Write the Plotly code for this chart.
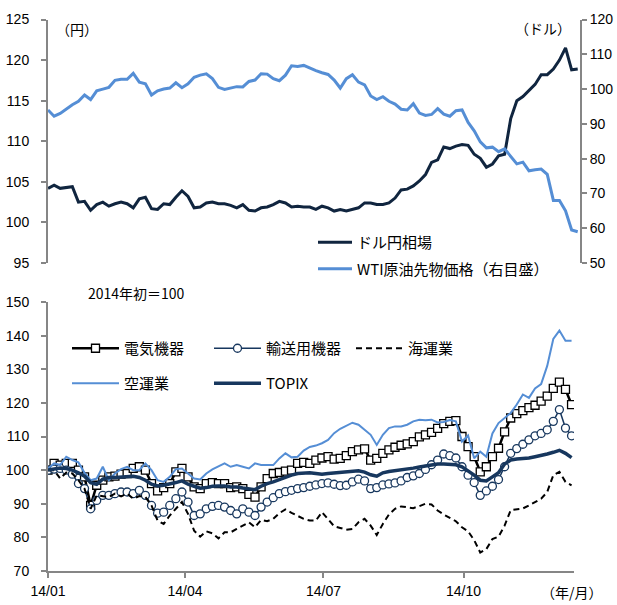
import pandas as pd
import plotly.graph_objects as go

# ---------------- data ----------------
top_dates = pd.date_range("2014-01-01", periods=88, freq="4D")
bot_dates = pd.date_range("2014-01-01", periods=87, freq="4D")

usdjpy = [104.2, 104.6, 104.2, 104.3, 104.4, 102.5, 102.6, 101.5, 102.2, 102.5,
          102.0, 102.3, 102.5, 102.3, 101.8, 102.9, 103.1, 101.7, 101.6, 102.3,
          102.2, 103.1, 103.9, 103.2, 101.8, 101.9, 102.4, 102.5, 102.3, 102.3,
          102.1, 101.8, 102.2, 101.5, 101.4, 101.8, 101.9, 102.2, 102.6, 102.4,
          101.9, 102.0, 101.9, 101.9, 101.6, 102.0, 101.8, 101.4, 101.6, 101.4,
          101.6, 101.8, 102.4, 102.4, 102.2, 102.2, 102.4, 103.0, 104.0, 104.1,
          104.5, 105.1, 105.9, 107.4, 107.7, 109.3, 109.1, 109.4, 109.6, 109.5,
          108.4, 107.9, 106.8, 107.2, 108.2, 108.4, 112.8, 115.0, 115.5, 116.3,
          117.0, 118.2, 118.2, 118.9, 120.0, 121.5, 118.8, 118.9]

wti = [94.0, 92.2, 93.0, 94.3, 95.5, 96.5, 98.3, 97.0, 99.5, 100.0,
       100.5, 102.5, 102.8, 102.8, 104.5, 102.0, 101.5, 98.3, 99.5, 100.0,
       100.3, 101.8, 100.4, 101.5, 103.4, 104.0, 104.4, 103.0, 100.5, 99.9,
       100.2, 100.7, 100.6, 102.2, 102.6, 104.4, 104.3, 103.0, 102.4, 104.0,
       106.7, 106.5, 106.8, 106.0, 105.3, 104.7, 104.2, 102.6, 100.3, 103.0,
       104.1, 102.0, 101.2, 98.0, 97.0, 97.8, 96.5, 95.7, 94.2, 94.0,
       95.8, 93.1, 92.4, 92.7, 94.4, 92.8, 92.2, 93.8, 94.0, 90.4,
       88.0, 84.8, 83.1, 83.3, 82.0, 82.8, 80.5, 78.5, 79.0, 76.5,
       76.8, 77.0, 75.5, 68.0, 68.0, 65.0, 59.5, 59.0]

denki = [100.0, 102.0, 101.5, 102.0, 102.0, 100.0, 98.0, 89.5, 95.5, 97.0,
         98.0, 98.2, 98.8, 99.0, 100.5, 101.0, 100.0, 96.0, 93.8, 94.8,
         96.0, 99.5, 100.5, 98.0, 95.0, 94.5, 96.0, 96.3, 96.0, 96.0,
         94.8, 95.0, 94.5, 92.8, 92.0, 95.0, 97.5, 99.0, 99.3, 99.7,
         100.0, 102.0, 102.3, 102.0, 103.0, 103.6, 104.0, 103.3, 103.5, 104.3,
         105.5, 106.0, 106.3, 103.0, 103.5, 105.0, 106.0, 106.8, 107.4, 107.8,
         108.5, 109.9, 110.5, 111.2, 112.4, 113.8, 114.5, 114.7, 110.0, 107.0,
         104.0, 99.5, 101.0, 104.0, 106.5, 111.4, 115.5, 116.8, 117.7, 118.6,
         119.3, 120.5, 122.0, 124.3, 126.2, 124.0, 119.5]

yuso = [100.0, 100.3, 100.5, 100.0, 98.8, 96.0, 94.5, 88.5, 91.0, 92.5,
        92.5, 93.0, 93.5, 93.5, 93.0, 94.0, 92.5, 89.5, 87.2, 87.5,
        89.5, 91.5, 93.5, 90.5, 86.5, 87.0, 88.5, 89.2, 89.5, 89.0,
        88.0, 87.0, 88.5, 87.5, 86.5, 89.0, 90.5, 91.8, 93.0, 93.6,
        94.0, 94.5, 94.8, 95.2, 95.6, 96.0, 96.2, 95.8, 95.4, 95.5,
        96.5, 97.3, 96.8, 94.5, 94.8, 95.6, 95.9, 96.2, 96.8, 97.8,
        98.3, 99.0, 100.2, 101.6, 103.0, 104.8, 104.3, 103.6, 101.0, 98.5,
        96.3, 92.5, 93.8, 95.2, 97.2, 101.0, 105.0, 106.4, 107.7, 109.0,
        110.2, 110.9, 112.0, 114.5, 118.0, 112.5, 110.2]

kaiun = [100.0, 100.0, 97.5, 99.3, 99.0, 97.0, 94.5, 88.5, 92.5, 92.3,
         92.0, 93.0, 92.2, 93.0, 91.5, 92.3, 92.0, 89.5, 85.0, 84.0,
         86.5, 88.5, 90.5, 87.0, 82.0, 80.2, 81.8, 81.2, 79.7, 81.5,
         81.5, 82.5, 83.5, 84.5, 83.0, 85.2, 84.8, 85.5, 87.2, 88.3,
         87.3, 86.5, 85.5, 85.0, 85.0, 87.5, 85.5, 83.3, 82.8, 82.3,
         82.5, 84.5, 85.5, 83.5, 80.7, 84.0, 86.8, 88.5, 89.2, 89.0,
         88.7, 89.3, 90.0, 89.8, 88.0, 86.8, 85.8, 84.8, 83.0, 81.8,
         79.2, 75.5, 76.5, 79.5, 80.2, 83.5, 88.1, 88.3, 88.6, 89.5,
         90.5, 91.5, 93.5, 98.5, 99.5, 96.5, 95.5]

kuun = [100.5, 102.0, 101.5, 104.0, 103.0, 102.3, 99.2, 97.0, 97.5, 101.0,
        97.0, 99.0, 100.3, 101.0, 100.0, 100.0, 102.0, 100.0, 97.0, 96.5,
        98.0, 100.3, 100.5, 99.0, 97.5, 97.2, 99.0, 100.2, 101.0, 102.0,
        101.0, 101.5, 101.0, 100.5, 102.0, 101.5, 101.5, 101.5, 103.5, 105.0,
        103.8, 104.0, 105.8, 106.9, 107.3, 108.0, 109.0, 111.0, 112.3, 113.2,
        114.1, 113.5, 112.0, 110.5, 107.5, 110.5, 112.5, 113.0, 113.0, 113.5,
        114.5, 115.0, 114.8, 115.0, 114.2, 114.3, 114.9, 114.5, 108.5, 110.3,
        103.5, 105.5, 104.0, 110.9, 114.0, 115.5, 117.0, 119.5, 122.5, 121.5,
        124.3, 125.6, 131.0, 139.0, 141.5, 138.5, 138.5]

topix = [100.0, 100.3, 100.6, 100.5, 100.0, 99.2, 98.2, 96.3, 95.8, 97.3,
         97.8, 97.8, 98.0, 98.0, 98.2, 97.8, 97.0, 95.8, 95.3, 95.5,
         95.8, 96.3, 96.8, 95.8, 95.2, 94.6, 94.8, 95.2, 95.3, 95.3,
         95.0, 95.0, 94.7, 94.4, 94.2, 95.2, 96.0, 96.5, 97.2, 97.8,
         98.5, 99.0, 99.2, 99.2, 99.0, 98.8, 99.0, 99.2, 99.3, 99.5,
         99.6, 99.8, 99.4, 98.6, 98.2, 99.2, 99.6, 99.8, 100.0, 100.3,
         100.6, 100.9, 101.2, 101.6, 101.8, 101.8, 101.8, 101.6, 101.0, 99.8,
         98.5, 97.0, 96.8, 98.0, 99.2, 101.8, 103.0, 103.3, 103.4, 103.6,
         104.0, 104.3, 104.8, 105.3, 105.9, 105.0, 103.7]

x_tickvals = ["2014-01-01", "2014-04-01", "2014-07-01", "2014-10-01"]
x_ticktext = ["14/01", "14/04", "14/07", "14/10"]

# ---------------- layout helpers ----------------
W, H = 617, 605
def px(x):
    return x / W
def py(y):
    return 1 - y / H

NAVY = "#10253F"
NAVY2 = "#17375E"
LBLUE = "#558ED5"
AXC = "#868686"
JP = "Noto Sans CJK JP"
LAT = "Liberation Sans, Arial"

fig = go.Figure()

# top panel
fig.add_trace(go.Scatter(x=top_dates, y=usdjpy, name="ドル円相場", mode="lines",
                         line=dict(color=NAVY, width=3), xaxis="x", yaxis="y",
                         legend="legend", legendgroup="a"))
fig.add_trace(go.Scatter(x=top_dates, y=wti, name="WTI原油先物価格（右目盛）", mode="lines",
                         line=dict(color=LBLUE, width=3), xaxis="x", yaxis="y2",
                         legend="legend", legendgroup="b"))

# bottom panel
fig.add_trace(go.Scatter(x=bot_dates, y=denki, name="電気機器", mode="lines+markers",
                         line=dict(color="#000000", width=2.5),
                         marker=dict(symbol="square", size=8, color="white",
                                     line=dict(color="#000000", width=1.3)),
                         xaxis="x2", yaxis="y3", legend="legend2"))
fig.add_trace(go.Scatter(x=bot_dates, y=yuso, name="輸送用機器", mode="lines+markers",
                         line=dict(color=NAVY2, width=1.5),
                         marker=dict(symbol="circle", size=8, color="white",
                                     line=dict(color=NAVY2, width=1.3)),
                         xaxis="x2", yaxis="y3", legend="legend2"))
fig.add_trace(go.Scatter(x=bot_dates, y=kaiun, name="海運業", mode="lines",
                         line=dict(color="#000000", width=2, dash="6px,4px"),
                         xaxis="x2", yaxis="y3", legend="legend2"))
fig.add_trace(go.Scatter(x=bot_dates, y=kuun, name="空運業", mode="lines",
                         line=dict(color=LBLUE, width=2),
                         xaxis="x2", yaxis="y3", legend="legend3"))
fig.add_trace(go.Scatter(x=bot_dates, y=topix, name="TOPIX", mode="lines",
                         line=dict(color=NAVY2, width=3.5),
                         xaxis="x2", yaxis="y3", legend="legend3"))

day0 = pd.Timestamp("2014-01-01")
top_end = day0 + pd.Timedelta(days=349.5)
bot_end = day0 + pd.Timedelta(days=345.6)

tickfont = dict(family=LAT, size=14, color="#000000")
yaxis_common = dict(showgrid=False, zeroline=False, showline=True, linecolor=AXC,
                    linewidth=2, ticks="outside", ticklen=5, tickcolor=AXC,
                    tickwidth=1.5, tickfont=tickfont)

legfont = dict(family=JP, size=15, color="#000000")

fig.update_layout(
    width=W, height=H,
    margin=dict(l=0, r=0, t=0, b=0),
    paper_bgcolor="white", plot_bgcolor="rgba(0,0,0,0)",
    template="none",
    showlegend=True,
    xaxis=dict(domain=[px(48), px(580)], anchor="y", range=[day0, top_end],
               visible=False, showgrid=False),
    yaxis=dict(domain=[py(263), py(19.5)], anchor="x", range=[95, 125], dtick=5,
               tick0=95, ticklabelstandoff=9, **yaxis_common),
    yaxis2=dict(overlaying="y", side="right", anchor="x", range=[50, 120], dtick=10,
                tick0=50, ticklabelstandoff=0, **yaxis_common),
    xaxis2=dict(domain=[px(48), px(574)], anchor="y3", range=[day0, bot_end],
                tickmode="array", tickvals=x_tickvals, ticktext=x_ticktext,
                showgrid=False, zeroline=False, showline=True, linecolor=AXC,
                linewidth=2, ticks="outside", ticklen=5, tickcolor=AXC, tickwidth=1.5,
                tickfont=tickfont, ticklabelstandoff=1),
    yaxis3=dict(domain=[py(571), py(302)], anchor="x2", range=[70, 150], dtick=10,
                tick0=70, ticklabelstandoff=9, **yaxis_common),
    legend=dict(x=px(313), y=py(226), xanchor="left", yanchor="top",
                orientation="v", bgcolor="rgba(0,0,0,0)", tracegroupgap=4,
                font=legfont, itemwidth=34),
    legend2=dict(x=px(67), y=py(332), xanchor="left", yanchor="top",
                 orientation="h", bgcolor="rgba(0,0,0,0)",
                 entrywidth=80, entrywidthmode="pixels",
                 font=legfont, itemwidth=47),
    legend3=dict(x=px(67), y=py(367), xanchor="left", yanchor="top",
                 orientation="h", bgcolor="rgba(0,0,0,0)",
                 entrywidth=80, entrywidthmode="pixels",
                 font=legfont, itemwidth=47),
)

ann_font = dict(family=JP, size=14, color="#000000")
def note(text, x, y):
    fig.add_annotation(text=text, x=px(x), y=py(y), xref="paper", yref="paper",
                       xanchor="center", yanchor="middle", showarrow=False, font=ann_font)

note("（円）", 77, 29)
note("（ドル）", 543, 28)
note("2014年初＝100", 136, 293)
note("（年/月）", 572, 592)

fig.write_html("out.html")
